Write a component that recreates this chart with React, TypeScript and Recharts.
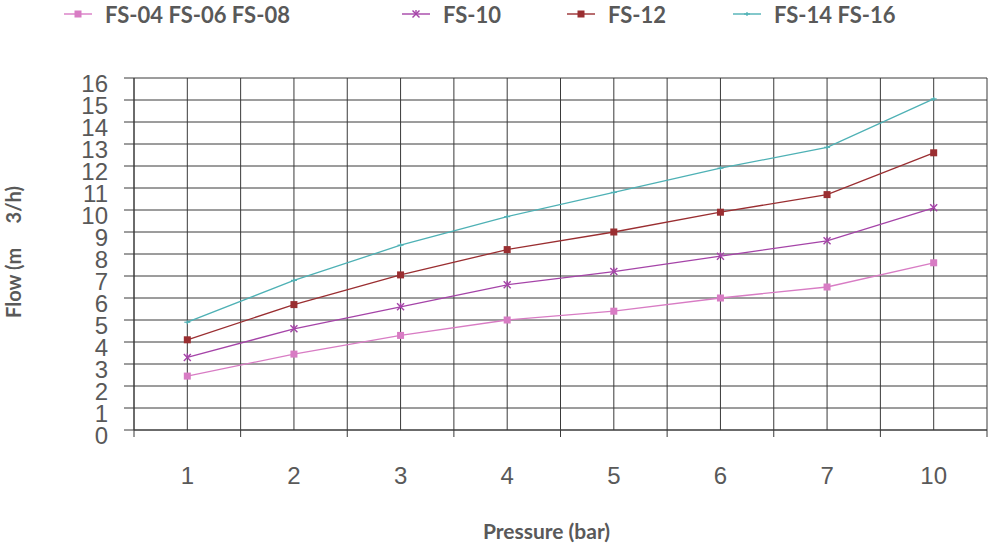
import { LineChart, Line, XAxis, YAxis, CartesianGrid, Label } from 'recharts'

const pressures = ['1', '2', '3', '4', '5', '6', '7', '10']
const fs04 = [2.45, 3.45, 4.3, 5.0, 5.4, 6.0, 6.5, 7.6]
const fs10 = [3.3, 4.6, 5.6, 6.6, 7.2, 7.9, 8.6, 10.1]
const fs12 = [4.1, 5.7, 7.05, 8.2, 9.0, 9.9, 10.7, 12.6]
const fs14 = [4.9, 6.8, 8.4, 9.7, 10.8, 11.9, 12.85, 15.05]
const yTicks = [0, 1, 2, 3, 4, 5, 6, 7, 8, 9, 10, 11, 12, 13, 14, 15, 16]

const TEXT = '#595959'
const GRID = '#3a3a3a'

const SERIES = [
  { key: 'fs04', nome: 'FS-04 FS-06 FS-08', cor: '#d87cc4', marca: 'square' },
  { key: 'fs10', nome: 'FS-10', cor: '#a544a8', marca: 'x' },
  { key: 'fs12', nome: 'FS-12', cor: '#9a2e31', marca: 'square' },
  { key: 'fs14', nome: 'FS-14 FS-16', cor: '#4eb1b5', marca: 'plus' },
]

// each category sits in the middle of its band, bands split at whole numbers
const pontos = pressures.map((p, i) => ({
  pos: i + 0.5,
  pressao: p,
  fs04: fs04[i],
  fs10: fs10[i],
  fs12: fs12[i],
  fs14: fs14[i],
}))
const xTicks = Array.from({ length: pressures.length * 2 + 1 }, (_, i) => i / 2)

const Marca = ({ tipo, cor, cx, cy }: any) => {
  if (cx == null || cy == null) return null
  if (tipo === 'square') return <rect x={cx - 3.5} y={cy - 3.5} width={7} height={7} fill={cor} />
  if (tipo === 'x')
    return (
      <g stroke={cor} strokeWidth={1.4}>
        <line x1={cx - 3.5} y1={cy - 3.5} x2={cx + 3.5} y2={cy + 3.5} />
        <line x1={cx - 3.5} y1={cy + 3.5} x2={cx + 3.5} y2={cy - 3.5} />
        <line x1={cx} y1={cy - 4} x2={cx} y2={cy} />
      </g>
    )
  return (
    <g stroke={cor} strokeWidth={1.2}>
      <line x1={cx - 3} y1={cy} x2={cx + 3} y2={cy} />
      <line x1={cx} y1={cy - 2} x2={cx} y2={cy + 2} />
    </g>
  )
}

const TickX = ({ x, y, payload }: any) => {
  const v = payload.value
  if (Number.isInteger(v)) {
    return <line x1={x} y1={y} x2={x} y2={y + 7} stroke={GRID} />
  }
  const label = pressures[Math.floor(v)]
  return (
    <text x={x} y={y + 54} textAnchor="middle" fill={TEXT} fontSize={24} fontFamily="'Liberation Sans', Arial, sans-serif">
      {label}
    </text>
  )
}

const TickY = ({ x, y, payload }: any) => (
  <text x={x} y={y + 14} textAnchor="end" fill={TEXT} fontSize={24} fontFamily="'Liberation Sans', Arial, sans-serif">
    {payload.value}
  </text>
)

const LEGENDA_X = [64, 402, 567, 733]

function Legenda() {
  return (
    <div style={{ position: 'absolute', left: 0, top: 0, width: 988, height: 30 }}>
      {SERIES.map((s, i) => (
        <div
          key={s.key}
          style={{ position: 'absolute', left: LEGENDA_X[i], top: 0, display: 'flex', alignItems: 'center', height: 28 }}
        >
          <svg width={28} height={14} style={{ marginRight: 13 }}>
            <line x1={0} y1={7} x2={28} y2={7} stroke={s.cor} strokeWidth={1.4} />
            <Marca tipo={s.marca} cor={s.cor} cx={14} cy={7} />
          </svg>
          <span style={{ fontFamily: 'Lato, sans-serif', fontWeight: 700, fontSize: 22, color: TEXT, whiteSpace: 'nowrap' }}>
            {s.nome}
          </span>
        </div>
      ))}
    </div>
  )
}

export default function App() {
  return (
    <div style={{ position: 'absolute', left: 0, top: 0, width: 988, height: 551, background: '#fff' }}>
      <Legenda />
      <LineChart width={988} height={551} data={pontos} margin={{ top: 78, right: 1, left: 0, bottom: 0 }}>
        <CartesianGrid stroke={GRID} strokeWidth={1} />
        <XAxis
          dataKey="pos"
          type="number"
          domain={[0, pressures.length]}
          ticks={xTicks}
          interval={0}
          height={121}
          tickSize={0}
          tickMargin={0}
          tickLine={false}
          tick={<TickX />}
          axisLine={{ stroke: GRID }}
        >
          <Label
            value="Pressure (bar)"
            position="insideTop"
            offset={94}
            dx={-14}
            fill={TEXT}
            fontSize={21}
            fontWeight={700}
            fontFamily="Lato, sans-serif"
          />
        </XAxis>
        <YAxis
          type="number"
          domain={[0, 16]}
          ticks={yTicks}
          interval={0}
          width={134}
          tickSize={10}
          tickMargin={16}
          tickLine={{ stroke: GRID }}
          tick={<TickY />}
          axisLine={{ stroke: GRID }}
        >
          <Label
            value={'Flow (m\u00a0\u00a0\u00a0\u00a0\u00a03/h)'}
            angle={-90}
            position="insideLeft"
            offset={14}
            dy={-2}
            fill={TEXT}
            fontSize={20}
            fontWeight={700}
            fontFamily="Lato, sans-serif"
            textAnchor="middle"
          />
        </YAxis>
        {SERIES.map(s => (
          <Line
            key={s.key}
            type="linear"
            dataKey={s.key}
            stroke={s.cor}
            strokeWidth={1.3}
            dot={(p: any) => <Marca key={`${s.key}-${p.index}`} tipo={s.marca} cor={s.cor} cx={p.cx} cy={p.cy} />}
            activeDot={false}
            isAnimationActive={false}
          />
        ))}
      </LineChart>
    </div>
  )
}
